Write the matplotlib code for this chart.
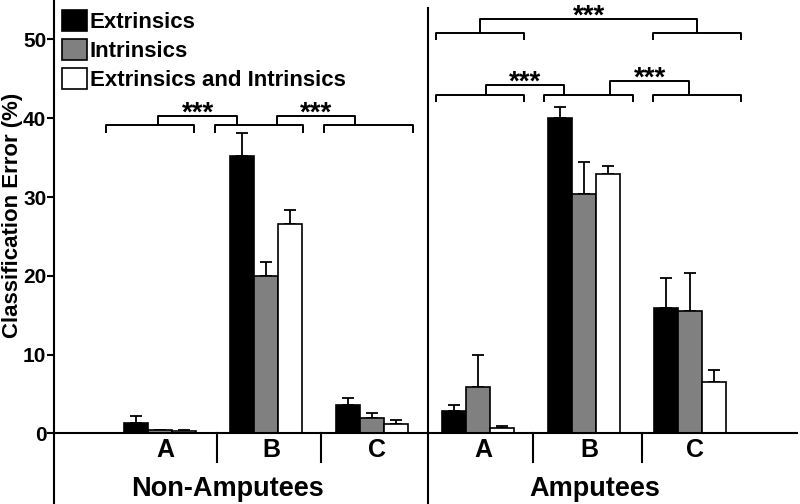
import numpy as np
import matplotlib
matplotlib.use("Agg")
import matplotlib.pyplot as plt
from matplotlib.patches import Patch

plt.rcParams['font.family'] = ['Liberation Sans', 'DejaVu Sans']
plt.rcParams['font.weight'] = 'bold'

# ------------------- data -------------------
groups = ["Non-Amputees", "Amputees"]
categories = ["A", "B", "C", "A", "B", "C"]
series = ["Extrinsics", "Intrinsics", "Extrinsics and Intrinsics"]
colors = ["#000000", "#808080", "#ffffff"]

extrinsics = [1.3, 35.2, 3.6, 2.8, 40.0, 15.9]
extrinsics_err = [0.9, 2.9, 0.9, 0.8, 1.4, 3.8]
intrinsics = [0.4, 20.0, 1.9, 5.9, 30.4, 15.5]
intrinsics_err = [0.1, 1.8, 0.7, 4.1, 4.0, 4.8]
both = [0.3, 26.6, 1.2, 0.7, 32.9, 6.5]
both_err = [0.1, 1.7, 0.5, 0.2, 1.0, 1.6]

# significance brackets: (x left, x right, y) and connectors (x left, x right, y, y of bracket)
brackets = [(-0.51, 0.32, 39.1), (0.52, 1.35, 39.1), (1.55, 2.39, 39.1),
            (2.60, 3.43, 42.95), (3.62, 4.46, 42.95), (4.65, 5.48, 42.95),
            (2.60, 3.43, 50.8), (4.65, 5.48, 50.8)]
connectors = [(-0.02, 0.73, 40.3, 39.1), (1.10, 1.84, 40.3, 39.1),
              (3.08, 3.81, 44.2, 42.95), (4.25, 4.99, 44.7, 42.95),
              (3.02, 5.07, 52.6, 50.8)]

# ------------------- plot -------------------
fig = plt.figure(figsize=(8, 5.04), dpi=100)
ax = fig.add_axes([54 / 800, 0, 744 / 800, 1])

x = np.arange(len(categories))
w = 0.225
values = [extrinsics, intrinsics, both]
errs = [extrinsics_err, intrinsics_err, both_err]
for k in range(3):
    pos = x + (k - 1) * w
    ax.bar(pos, values[k], w, color=colors[k], edgecolor='black', linewidth=1.2,
           label=series[k], zorder=2)
    ax.errorbar(pos, values[k], yerr=[np.zeros(len(x)), errs[k]], fmt='none',
                ecolor='black', elinewidth=1.3, capsize=4, capthick=1.3, zorder=1)

ax.set_xlim(-1.0, 6.02)
ax.set_ylim(-8.95, 55.0)
ax.set_yticks([0, 10, 20, 30, 40, 50])
ax.tick_params(axis='y', labelsize=15, length=5, width=1.5, pad=0.5)
ax.set_xticks([])
for s in ['top', 'right', 'bottom']:
    ax.spines[s].set_visible(False)
ax.spines['left'].set_linewidth(1.5)
ax.axhline(0, color='black', linewidth=1.5, zorder=3)

# group separator and category separators
ax.plot([2.53, 2.53], [-8.95, 54.0], color='black', linewidth=1.5, clip_on=False)
for sx in [0.54, 1.52, 3.52, 4.55]:
    ax.plot([sx, sx], [0, -3.6], color='black', linewidth=1.5)

for i, c in enumerate(categories):
    ax.text(x[i] + 0.05, -2.1, c, ha='center', va='center', fontsize=18, fontweight='bold')
ax.text(0.64, -7.0, groups[0], ha='center', va='center', fontsize=19.5, fontweight='bold')
ax.text(4.1, -7.0, groups[1], ha='center', va='center', fontsize=19.5, fontweight='bold')

ax.set_ylabel("Classification Error (%)", fontsize=16, fontweight='bold')
ax.yaxis.set_label_coords(-0.0417, 0.573)

# significance brackets
for xl, xr, y in brackets:
    ax.plot([xl, xl, xr, xr], [y - 0.8, y, y, y - 0.8], color='black', linewidth=1.4)
for xl, xr, y, yb in connectors:
    ax.plot([xl, xl, xr, xr], [yb, y, y, yb], color='black', linewidth=1.4)
    ax.text((xl + xr) / 2, y - 0.6, "***", ha='center', va='baseline', fontsize=20)

handles = [Patch(facecolor=colors[k], edgecolor='black', linewidth=1.2) for k in range(3)]
ax.legend(handles, series, loc='upper left', bbox_to_anchor=(0.011, 0.98), frameon=False,
          fontsize=16, handlelength=1.1, handleheight=1.05, handletextpad=0.15,
          labelspacing=0.28, borderpad=0, borderaxespad=0)

fig.savefig("out.png", dpi=100)
